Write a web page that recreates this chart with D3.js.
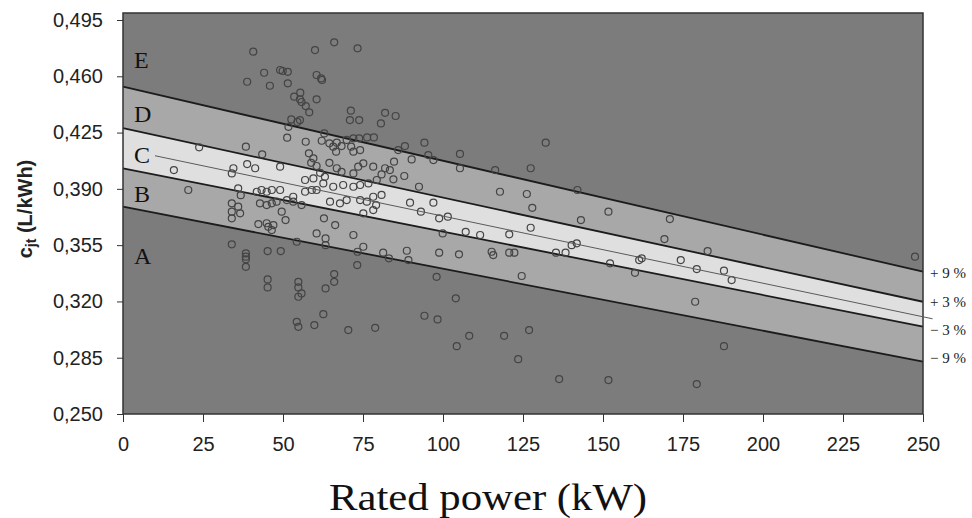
<!DOCTYPE html>
<html><head><meta charset="utf-8">
<script src="https://cdn.jsdelivr.net/npm/d3@7"></script>
<style>body{margin:0;background:#fff}svg{display:block}</style>
</head><body><svg id="c" width="972" height="518"></svg>
<script>
// ---- data ----
const xTicks = [0,25,50,75,100,125,150,175,200,225,250];
const yTicks = [0.250,0.285,0.320,0.355,0.390,0.425,0.460,0.495];
const boundX = [0, 250];
const plus9  = [0.4535, 0.3385];
const plus3  = [0.4277, 0.3198];
const minus3 = [0.4028, 0.3043];
const minus9 = [0.3789, 0.2825];
const centerX = [10, 253];
const centerY = [0.4106, 0.3092];
const bandLabels = ["E","D","C","B","A"];
const bandLabelY = [0.4705, 0.4365, 0.4112, 0.3872, 0.3487];
const pctLabels = ["+ 9 %","+ 3 %","− 3 %","− 9 %"];
const pctLabelY = [0.3380, 0.3198, 0.3025, 0.2850];
const powerKW = [40.7,66.0,60.0,73.3,44.1,49.1,49.9,51.5,38.8,45.9,51.5,60.5,61.9,62.2,55.4,53.5,55.3,55.8,60.5,57.1,
58.2,71.2,73.8,70.9,52.6,55.3,54.5,51.7,51.3,62.9,57.1,62.1,64.5,66.8,68.3,69.9,72.0,73.8,76.3,78.4,
38.4,23.8,43.5,58.1,59.5,58.8,60.5,65.7,66.6,71.3,72.0,74.1,64.5,15.9,34.5,34.0,38.8,41.3,49.1,56.9,
59.5,61.6,63.1,66.8,68.3,72.0,73.5,75.1,78.2,20.4,36.0,36.8,41.8,43.3,44.9,46.5,49.1,51.2,53.2,56.9,
59.0,60.5,62.6,65.7,68.8,72.0,74.1,76.7,79.3,64.7,67.8,69.9,74.1,76.2,78.2,34.0,36.0,34.0,36.6,34.0,
42.8,44.9,46.5,48.0,49.6,50.8,42.3,44.9,45.4,46.5,47.0,53.2,55.8,60.5,63.3,63.3,62.8,66.3,75.1,78.2,
72.0,75.1,73.3,73.2,54.3,34.0,38.4,38.4,38.4,38.4,45.2,49.3,45.2,45.2,54.8,54.8,55.8,54.8,66.0,66.0,
63.3,62.6,54.3,54.8,59.8,70.4,78.8,81.9,85.2,80.6,94.2,132.1,88.1,86.0,95.4,97.0,90.2,105.3,84.7,81.9,
83.4,80.8,84.5,87.9,105.3,116.3,127.4,80.8,79.1,92.5,117.8,126.2,142.0,127.9,89.7,97.0,93.1,151.7,143.1,98.8,
101.5,127.4,99.9,107.1,111.6,120.7,140.2,141.8,81.3,83.1,88.7,89.2,98.8,105.0,115.2,115.7,120.7,122.3,135.3,138.3,
152.2,98.0,124.6,104.0,94.2,98.3,108.2,119.1,126.9,104.3,123.5,136.3,151.7,170.9,169.2,182.7,162.1,161.3,174.3,179.3,
187.8,190.2,160.0,178.8,187.8,179.3,247.5];
const cjt = [0.4753,0.4811,0.4763,0.4774,0.4622,0.4639,0.4633,0.4628,0.4566,0.4541,0.4556,0.4608,0.4587,0.4577,0.4498,0.4473,0.4457,0.4440,0.4457,0.4415,
0.4376,0.4386,0.4328,0.4328,0.4332,0.4328,0.4316,0.4286,0.4218,0.4245,0.4193,0.4199,0.4183,0.4187,0.4166,0.4204,0.4214,0.4214,0.4220,0.4220,
0.4162,0.4158,0.4115,0.4121,0.4090,0.4062,0.4042,0.4162,0.4131,0.4162,0.4131,0.4141,0.4062,0.4017,0.4028,0.3996,0.4054,0.4028,0.4038,0.3955,
0.3965,0.4000,0.3975,0.4028,0.4006,0.3996,0.4038,0.4059,0.4038,0.3893,0.3903,0.3861,0.3882,0.3893,0.3882,0.3893,0.3893,0.3830,0.3851,0.3882,
0.3893,0.3893,0.3934,0.3913,0.3924,0.3913,0.3924,0.3934,0.3955,0.3820,0.3810,0.3830,0.3830,0.3820,0.3851,0.3810,0.3789,0.3758,0.3748,0.3717,
0.3810,0.3799,0.3810,0.3820,0.3758,0.3706,0.3681,0.3686,0.3664,0.3644,0.3675,0.3820,0.3799,0.3623,0.3592,0.3550,0.3717,0.3675,0.3748,0.3768,
0.3613,0.3540,0.3509,0.3426,0.3571,0.3555,0.3499,0.3478,0.3462,0.3415,0.3513,0.3513,0.3337,0.3287,0.3322,0.3287,0.3250,0.3229,0.3370,0.3322,
0.3281,0.3121,0.3073,0.3042,0.3053,0.3022,0.3036,0.4373,0.4353,0.4307,0.4187,0.4187,0.4166,0.4141,0.4110,0.4079,0.4083,0.4117,0.4069,0.4028,
0.4017,0.3990,0.3959,0.3980,0.4028,0.4017,0.4028,0.3862,0.3799,0.3913,0.3882,0.3868,0.3893,0.3782,0.3814,0.3814,0.3758,0.3758,0.3706,0.3717,
0.3727,0.3658,0.3623,0.3633,0.3613,0.3617,0.3550,0.3561,0.3503,0.3468,0.3515,0.3457,0.3503,0.3493,0.3509,0.3488,0.3503,0.3503,0.3503,0.3503,
0.3437,0.3353,0.3358,0.3219,0.3111,0.3088,0.2986,0.2986,0.3022,0.2922,0.2841,0.2717,0.2711,0.3712,0.3588,0.3513,0.3468,0.3457,0.3457,0.3401,
0.3391,0.3333,0.3378,0.3198,0.2922,0.2686,0.3478];

// ---- layout ----
const L = 123, R = 923, T = 13, B = 414;
const svg = d3.select("#c");
const x = d3.scaleLinear().domain([0,250]).range([L,R]);
const y = d3.scaleLinear().domain([0.250,0.495]).range([B,20]);

const g = svg.append("g");
g.append("rect").attr("x",L).attr("y",T).attr("width",R-L).attr("height",B-T).attr("fill","#7c7c7c");

svg.append("clipPath").attr("id","pc").append("rect")
  .attr("x",L).attr("y",T).attr("width",R-L).attr("height",B-T);
const band = (top, bot, fill) => {
  const pts = boundX.map((v,i)=>[x(v),y(top[i])])
    .concat(boundX.map((v,i)=>[x(v),y(bot[i])]).reverse());
  g.append("path").attr("d", d3.line()(pts)+"Z").attr("fill",fill).attr("clip-path","url(#pc)");
};
band(plus9, plus3, "#a8a8a8");
band(plus3, minus3, "#dfdfdf");
band(minus3, minus9, "#a8a8a8");

const line = d3.line();
[plus9, plus3, minus3, minus9].forEach(arr=>{
  g.append("path").attr("d", line(boundX.map((v,i)=>[x(v),y(arr[i])])))
   .attr("fill","none").attr("stroke","#1c1c1c").attr("stroke-width",1.8);
});
svg.append("path").attr("d", line(centerX.map((v,i)=>[x(v),y(centerY[i])])))
  .attr("fill","none").attr("stroke","#5a5a5a").attr("stroke-width",1);

// points
g.selectAll("circle.pt").data(powerKW.map((v,i)=>[v,cjt[i]])).enter().append("circle")
  .attr("class","pt").attr("cx",d=>x(d[0])).attr("cy",d=>y(d[1])).attr("r",3.5)
  .attr("fill","none").attr("stroke","#444").attr("stroke-width",1.2);

// band labels
g.selectAll("text.bl").data(bandLabels).enter().append("text")
  .attr("x",134).attr("y",(d,i)=>y(bandLabelY[i])).attr("dy","0.35em")
  .attr("font-family","Liberation Serif, Times New Roman, serif").attr("font-size",24).attr("fill","#111")
  .text(d=>d);

// frame
g.append("rect").attr("x",L).attr("y",T).attr("width",R-L).attr("height",B-T)
  .attr("fill","none").attr("stroke","#333").attr("stroke-width",1.5);

// axes
const ax = svg.append("g").attr("transform",`translate(0,${B})`)
  .call(d3.axisBottom(x).tickValues(xTicks).tickSize(8).tickPadding(22).tickFormat(d3.format("d")));
const ay = svg.append("g").attr("transform",`translate(${L},0)`)
  .call(d3.axisLeft(y).tickValues(yTicks).tickSize(6).tickPadding(14).tickFormat(d=>d3.format(".3f")(d).replace(".",",")));
[ax,ay].forEach(a=>{
  a.select(".domain").remove();
  a.selectAll(".tick line").attr("stroke","#333");
  a.selectAll("text").attr("font-family","Liberation Sans, Arial, sans-serif").attr("font-size",20).attr("fill","#222");
});
ax.selectAll("text").attr("dy","0.35em");

// percent labels
svg.selectAll("text.pl").data(pctLabels).enter().append("text")
  .attr("x",930).attr("y",(d,i)=>y(pctLabelY[i])).attr("dy","0.35em")
  .attr("font-family","Liberation Serif, Times New Roman, serif").attr("font-size",15).attr("fill","#222")
  .text(d=>d);

// axis titles
svg.append("text").attr("x",488).attr("y",510).attr("text-anchor","middle")
  .attr("font-family","Liberation Serif, Times New Roman, serif").attr("font-size",38).attr("fill","#111")
  .attr("textLength",318).attr("lengthAdjust","spacingAndGlyphs")
  .text("Rated power (kW)");
const yl = svg.append("text").attr("transform","translate(32,209) rotate(-90)").attr("text-anchor","middle")
  .attr("font-family","Liberation Sans, Arial, sans-serif").attr("font-weight","bold").attr("font-size",20).attr("fill","#222");
yl.append("tspan").text("c");
yl.append("tspan").attr("font-size",14).attr("dy",4).text("jt");
yl.append("tspan").attr("dy",-4).text(" (L/kWh)");
</script></body></html>
